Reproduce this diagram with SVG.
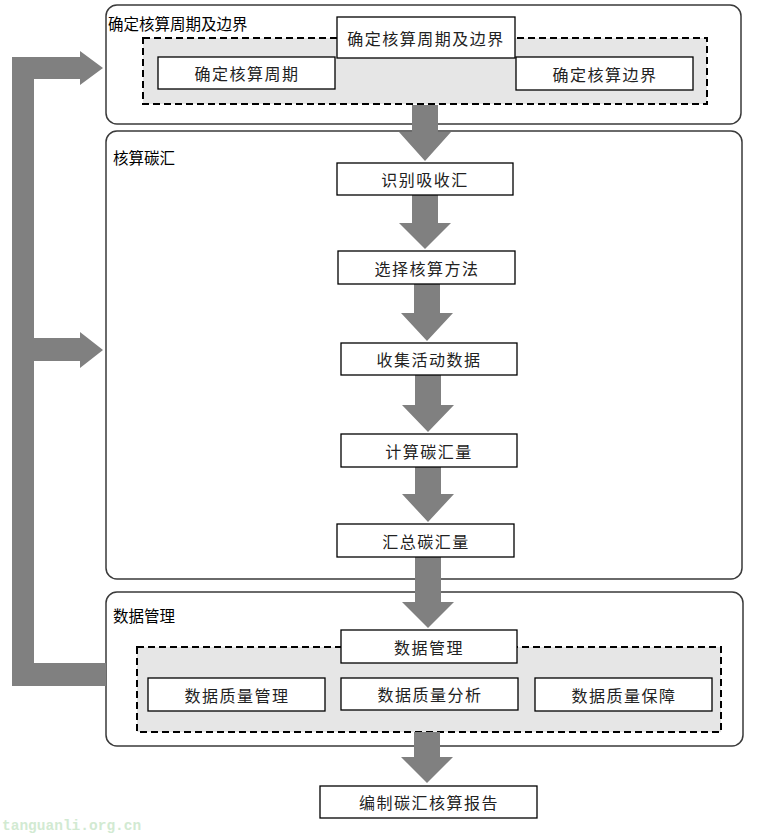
<svg xmlns="http://www.w3.org/2000/svg" width="761" height="833" viewBox="0 0 761 833">
<style>
.bg{fill:#ffffff}
.container{fill:#ffffff;stroke:#3a3a3a;stroke-width:1.5}
.dash{fill:#e6e6e6;stroke:#000;stroke-width:2;stroke-dasharray:7,4}
.box{fill:#ffffff;stroke:#000;stroke-width:1.3}
.lbl{font-family:"Noto Sans CJK SC","Liberation Sans",sans-serif;font-size:15.5px;fill:#000}
.txt{font-family:"Noto Sans CJK SC","Liberation Sans",sans-serif;font-size:16px;fill:#222;text-anchor:middle;dominant-baseline:central;letter-spacing:1.5px}
.arrow{fill:#808080}
.wm{font-family:"Liberation Mono",monospace;font-size:14.5px;font-weight:bold;fill:#d2ead2}
</style>
<rect class="bg" x="0" y="0" width="761" height="833"/>

<g id="c-boundary">
<rect class="container" x="106" y="5" width="635" height="119" rx="11"/>
<text class="lbl" x="108" y="30">确定核算周期及边界</text>
<rect class="dash" x="143" y="38" width="564" height="66"/>
</g>
<g id="c-sink">
<rect class="container" x="106" y="131" width="636" height="448" rx="11"/>
<text class="lbl" x="113" y="164">核算碳汇</text>
</g>
<g id="c-data">
<rect class="container" x="106" y="592" width="637" height="154" rx="11"/>
<text class="lbl" x="113" y="622">数据管理</text>
<rect class="dash" x="137" y="647" width="584" height="85"/>
</g>

<g id="connectors">
<path class="arrow" d="M12,57 L80,57 L80,51 L103,68 L80,85 L80,79 L34,79 L34,338 L80,338 L80,332 L103,350 L80,368 L80,361 L34,361 L34,663 L106,663 L106,686 L12,686 Z"/>
<polygon class="arrow" points="412,105 438,105 438,132 451,132 425,161 399,132 412,132"/>
<polygon class="arrow" points="412,195 438,195 438,223 451,223 425,249 399,223 412,223"/>
<polygon class="arrow" points="414,284 440,284 440,313 453,313 427,341 401,313 414,313"/>
<polygon class="arrow" points="415,375 441,375 441,405 454,405 428,432 402,405 415,405"/>
<polygon class="arrow" points="415,467 441,467 441,494 454,494 428,522 402,494 415,494"/>
<polygon class="arrow" points="415,557 441,557 441,602 454,602 428,628 402,602 415,602"/>
<polygon class="arrow" points="414,732 440,732 440,757 453,757 427,783 401,757 414,757"/>
</g>

<g id="n-boundary-title">
<rect class="box" x="337" y="17" width="178" height="41"/>
<text class="txt" x="426" y="38">确定核算周期及边界</text>
</g>
<g id="n-period">
<rect class="box" x="158" y="57" width="177" height="32"/>
<text class="txt" x="247" y="73">确定核算周期</text>
</g>
<g id="n-boundary">
<rect class="box" x="516" y="57" width="177" height="33"/>
<text class="txt" x="605" y="74">确定核算边界</text>
</g>

<g id="n-identify">
<rect class="box" x="337" y="163" width="176" height="32"/>
<text class="txt" x="425" y="179">识别吸收汇</text>
</g>
<g id="n-method">
<rect class="box" x="338" y="251" width="177" height="33"/>
<text class="txt" x="427" y="267.5">选择核算方法</text>
</g>
<g id="n-collect">
<rect class="box" x="341" y="343" width="176" height="32"/>
<text class="txt" x="429" y="359">收集活动数据</text>
</g>
<g id="n-calc">
<rect class="box" x="341" y="434" width="176" height="33"/>
<text class="txt" x="429" y="450.5">计算碳汇量</text>
</g>
<g id="n-sum">
<rect class="box" x="337" y="524" width="177" height="33"/>
<text class="txt" x="426" y="540.5">汇总碳汇量</text>
</g>

<g id="n-data-title">
<rect class="box" x="341" y="630" width="176" height="33"/>
<text class="txt" x="429" y="646.5">数据管理</text>
</g>
<g id="n-dq-manage">
<rect class="box" x="148" y="678" width="177" height="33"/>
<text class="txt" x="237" y="694.5">数据质量管理</text>
</g>
<g id="n-dq-analyze">
<rect class="box" x="341" y="678" width="177" height="32"/>
<text class="txt" x="430" y="694">数据质量分析</text>
</g>
<g id="n-dq-assure">
<rect class="box" x="535" y="678" width="177" height="33"/>
<text class="txt" x="624" y="694.5">数据质量保障</text>
</g>

<g id="n-report">
<rect class="box" x="320" y="786" width="217" height="32"/>
<text class="txt" x="429" y="802">编制碳汇核算报告</text>
</g>

<text class="wm" x="2" y="830">tanguanli.org.cn</text>
</svg>
